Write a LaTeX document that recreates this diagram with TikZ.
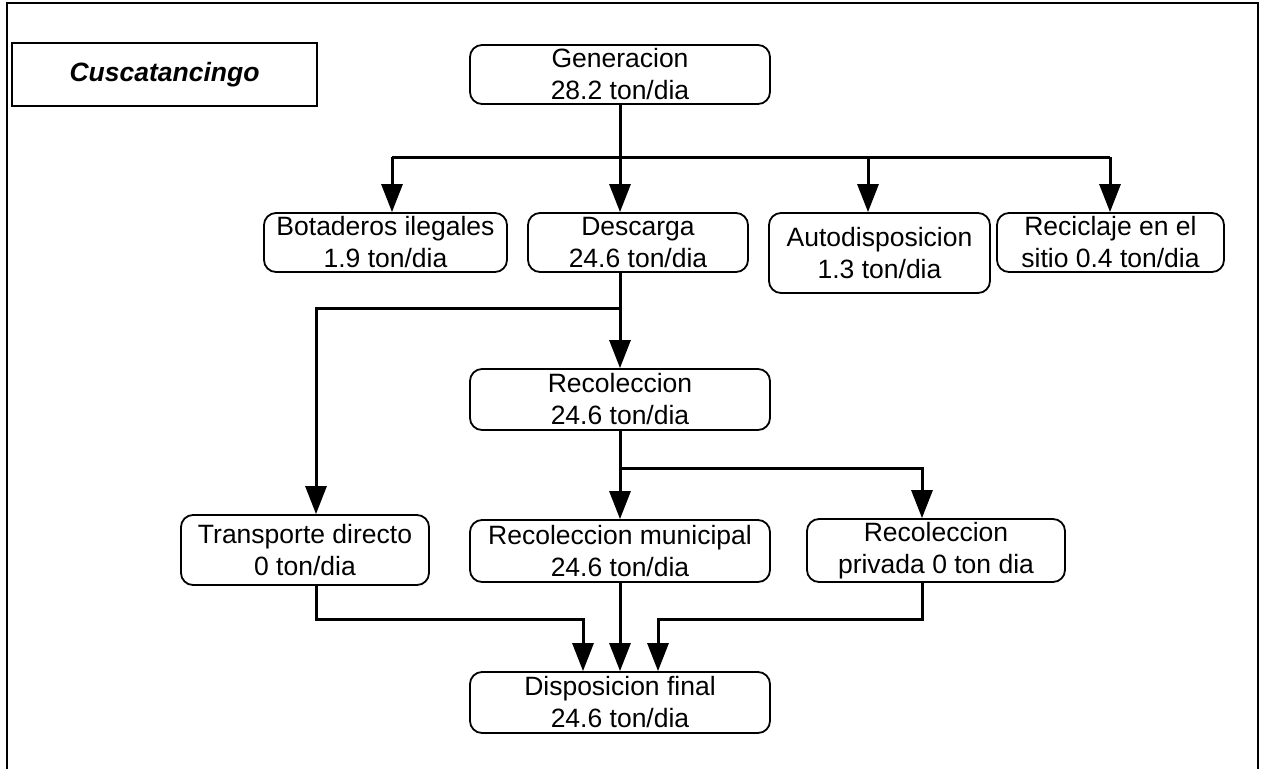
\documentclass[tikz,border=0pt]{standalone}
\usepackage{fontspec}
\setmainfont{Liberation Sans}
\usetikzlibrary{arrows.meta}

\begin{document}
\begin{tikzpicture}[x=1pt,y=-1pt,
  txt/.style={font=\fontsize{26.5}{32}\selectfont},
  flowbox/.style={txt, draw, line width=1.8pt, rounded corners=12pt, align=center,
    inner sep=0pt, anchor=center},
  flow/.style={line width=3pt, -{Triangle[length=28pt,width=21pt]}},
  link/.style={line width=3pt}
]
\useasboundingbox (0,0) rectangle (1262,769);

% outer frame, open at the bottom
\draw[line width=2pt] (7,769) -- (7,3) -- (1258,3) -- (1258,769);

% title
\node[txt, draw, line width=1.5pt, minimum width=305pt, minimum height=63pt, inner sep=0pt,
      font=\fontsize{26.5}{32}\selectfont\bfseries\itshape] (title) at (164.5,74.5) {Cuscatancingo};

% boxes
\node[flowbox, minimum width=300pt, minimum height=59pt] (gen)  at (620,74.5)   {Generacion\\28.2 ton/dia};
\node[flowbox, minimum width=243pt, minimum height=59pt] (bot)  at (385.5,242.5) {Botaderos ilegales\\1.9 ton/dia};
\node[flowbox, minimum width=220pt, minimum height=59pt] (desc) at (638,242.5)  {Descarga\\24.6 ton/dia};
\node[flowbox, minimum width=221pt, minimum height=80pt] (auto) at (879.5,253)  {Autodisposicion\\1.3 ton/dia};
\node[flowbox, minimum width=227pt, minimum height=59pt] (reci) at (1110.5,242.5) {Reciclaje en el\\sitio 0.4 ton/dia};
\node[flowbox, minimum width=300pt, minimum height=61pt] (reco) at (620,399.5)  {Recoleccion\\24.6 ton/dia};
\node[flowbox, minimum width=248pt, minimum height=70pt] (trans) at (305,550)   {Transporte directo\\0 ton/dia};
\node[flowbox, minimum width=300pt, minimum height=62pt] (muni) at (620,551)    {Recoleccion municipal\\24.6 ton/dia};
\node[flowbox, minimum width=258pt, minimum height=63pt] (priv) at (936,550.5)  {Recoleccion\\privada 0 ton dia};
\node[flowbox, minimum width=300pt, minimum height=61pt] (disp) at (620,702.5)  {Disposicion final\\24.6 ton/dia};

% junction points
\coordinate (g1) at (392,157);
\coordinate (g3) at (868,157);
\coordinate (g4) at (1110,157);
\coordinate (dj) at (620,308);
\coordinate (tj) at (316,308);
\coordinate (rj) at (620,468);
\coordinate (pj) at (922,468);
\coordinate (tb) at (316,619);
\coordinate (d1) at (583,619);
\coordinate (pb) at (922,619);
\coordinate (d3) at (658,619);

% generation split
\draw[link] (g1) -- (g4);
\draw[flow] (gen.south) -- (gen.south |- desc.north);
\draw[flow] (g1) -- (g1 |- bot.north);
\draw[flow] (g3) -- (g3 |- auto.north);
\draw[flow] (g4) -- (g4 |- reci.north);

% discharge split
\draw[flow] (dj |- desc.south) -- (reco.north);
\draw[flow] (dj) -- (tj) -- (tj |- trans.north);

% collection split
\draw[flow] (reco.south) -- (muni.north);
\draw[flow] (rj) -- (pj) -- (pj |- priv.north);

% to final disposal
\draw[flow] (tj |- trans.south) -- (tb) -- (d1) -- (d1 |- disp.north);
\draw[flow] (muni.south) -- (disp.north);
\draw[flow] (pj |- priv.south) -- (pb) -- (d3) -- (d3 |- disp.north);
\end{tikzpicture}
\end{document}
